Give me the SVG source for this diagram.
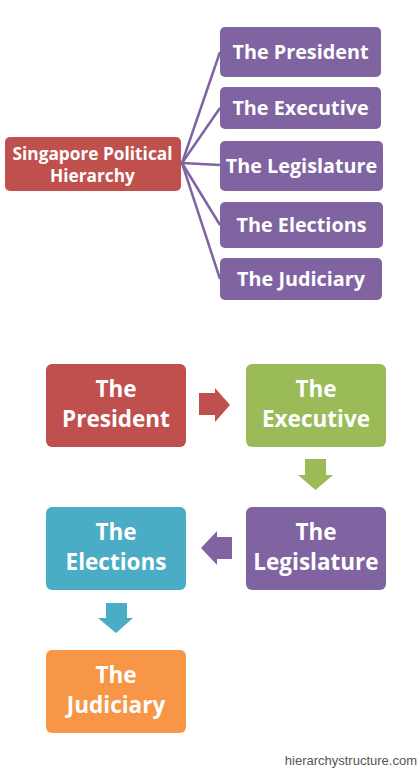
<svg xmlns="http://www.w3.org/2000/svg" width="420" height="770" viewBox="0 0 420 770">
<style>
.box{stroke:none}
.red{fill:#C0504D}.green{fill:#9BBB59}.purple{fill:#8064A2}.blue{fill:#4BACC6}.orange{fill:#F79646}
.t{font-family:"Open Sans",Lato,sans-serif;font-weight:bold;fill:#fff;text-anchor:middle;font-variant-ligatures:none}
.big{font-size:22.5px}
.mid{font-size:19.8px}
.small{font-size:17.3px}
.conn{stroke:#8064A2;stroke-width:2.5;fill:none}
.wm{font-family:"Liberation Sans",Arial,sans-serif;font-size:13px;fill:#555;text-anchor:end}
</style>
<rect width="420" height="770" fill="#fff"/>
<g id="connectors">
<line class="conn" x1="182" y1="163" x2="220" y2="52"/>
<line class="conn" x1="182" y1="163" x2="220" y2="108"/>
<line class="conn" x1="182" y1="163" x2="220" y2="165"/>
<line class="conn" x1="182" y1="163" x2="220" y2="225"/>
<line class="conn" x1="182" y1="163" x2="220" y2="279"/>
</g>
<g id="root"><rect class="box red" x="5" y="137" width="176" height="54" rx="5"/><text class="t small" x="92.5" y="159.5">Singapore Political</text><text class="t small" x="92.5" y="181.5">Hierarchy</text></g>
<g id="top-president"><rect class="box purple" x="220" y="27" width="161" height="50" rx="5"/><text class="t mid" x="300.5" y="59">The President</text></g>
<g id="top-executive"><rect class="box purple" x="220" y="87" width="161" height="42" rx="5"/><text class="t mid" x="300.5" y="115">The Executive</text></g>
<g id="top-legislature"><rect class="box purple" x="220" y="141" width="163" height="50" rx="5"/><text class="t mid" x="301.5" y="173">The Legislature</text></g>
<g id="top-elections"><rect class="box purple" x="220" y="202" width="163" height="46" rx="5"/><text class="t mid" x="301.5" y="232">The Elections</text></g>
<g id="top-judiciary"><rect class="box purple" x="220" y="258" width="162" height="42" rx="5"/><text class="t mid" x="301" y="286">The Judiciary</text></g>
<g id="flow-arrows">
<polygon class="red" points="199,393 215,393 215,388 230,405 215,422 215,415 199,415"/>
<polygon class="green" points="305,459 326,459 326,475 333,475 315.5,490 298,475 305,475"/>
<polygon class="purple" points="232,537 217,537 217,531 201,548 217,565 217,559 232,559"/>
<polygon class="blue" points="106,603 127,603 127,618 133,618 116,633 98,618 106,618"/>
</g>
<g id="president"><rect class="box red" x="46" y="364" width="140" height="83" rx="6"/><text class="t big" x="116" y="397">The</text><text class="t big" x="116" y="427">President</text></g>
<g id="executive"><rect class="box green" x="246" y="364" width="140" height="83" rx="6"/><text class="t big" x="316" y="397">The</text><text class="t big" x="316" y="427">Executive</text></g>
<g id="legislature"><rect class="box purple" x="246" y="507" width="140" height="83" rx="6"/><text class="t big" x="316" y="540">The</text><text class="t big" x="316" y="570">Legislature</text></g>
<g id="elections"><rect class="box blue" x="46" y="507" width="140" height="83" rx="6"/><text class="t big" x="116" y="540">The</text><text class="t big" x="116" y="570">Elections</text></g>
<g id="judiciary"><rect class="box orange" x="46" y="650" width="140" height="83" rx="6"/><text class="t big" x="116" y="683">The</text><text class="t big" x="116" y="713">Judiciary</text></g>
<text class="wm" x="417" y="765">hierarchystructure.com</text>
</svg>
